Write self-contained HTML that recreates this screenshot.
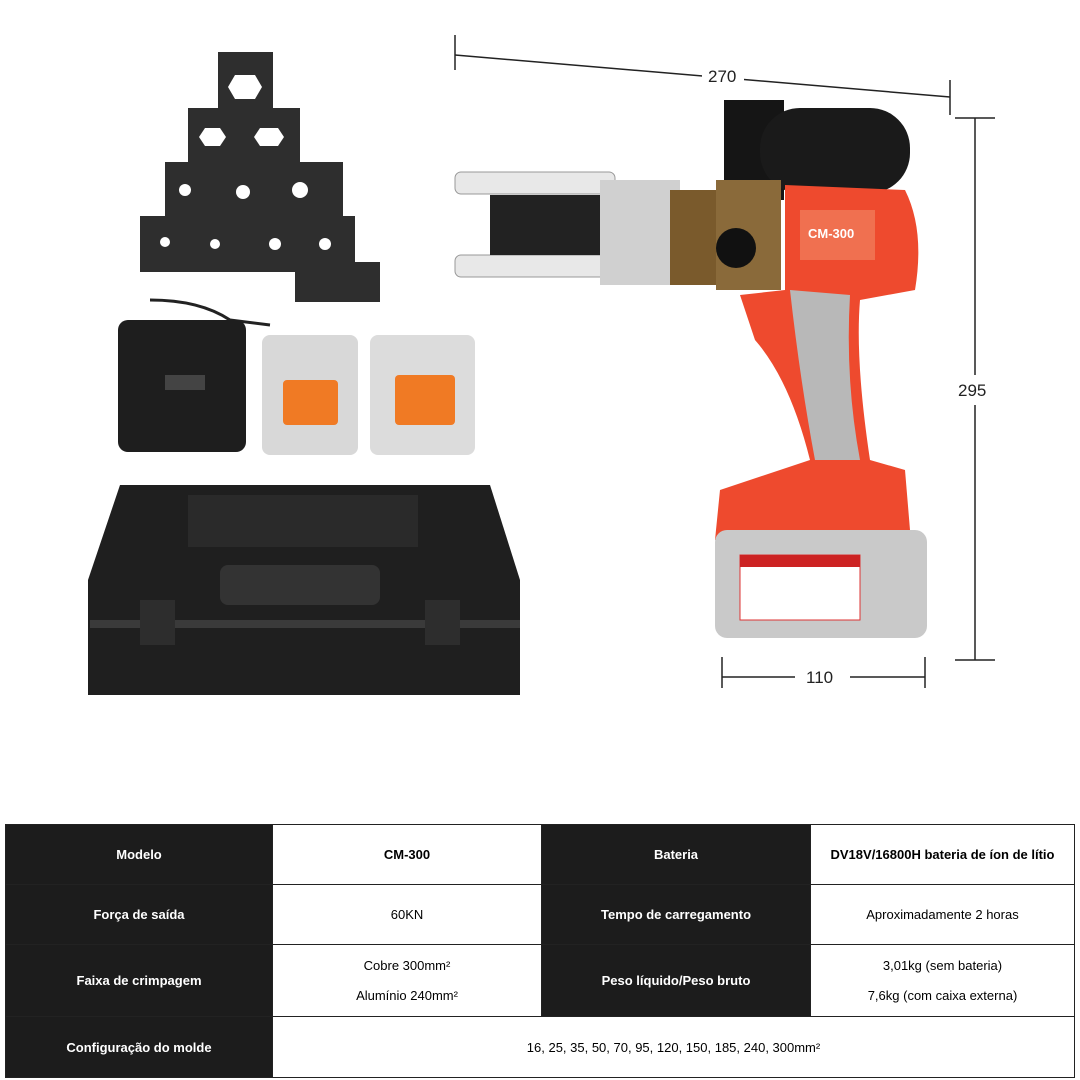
<!DOCTYPE html>
<html><head><meta charset="utf-8"><style>
html,body{margin:0;padding:0;background:#fff;width:1080px;height:1080px;overflow:hidden;font-family:"Liberation Sans","Noto Sans CJK SC",sans-serif}
svg{position:absolute;left:0;top:0}
table{position:absolute;left:5px;top:824px;width:1070px;border-collapse:collapse;font-size:13px;text-align:center}
td{border:1px solid #222;padding:0}
td.d{background:#1c1c1c;color:#fff;font-weight:bold}
td.b{font-weight:bold}
</style></head><body>
<svg width="1080" height="820" viewBox="0 0 1080 820">
<g fill="#2e2e2e">
<rect x="218" y="52" width="55" height="60"/>
<rect x="188" y="108" width="112" height="58"/>
<rect x="165" y="162" width="178" height="58"/>
<rect x="140" y="216" width="215" height="56"/>
<rect x="295" y="262" width="85" height="40"/>
</g>
<g fill="#fff"><polygon points="235,75 255,75 262,87 255,99 235,99 228,87"/>
<polygon points="205,128 220,128 226,137 220,146 205,146 199,137"/>
<polygon points="260,128 278,128 284,137 278,146 260,146 254,137"/>
<circle cx="185" cy="190" r="6"/><circle cx="243" cy="192" r="7"/><circle cx="300" cy="190" r="8"/>
<circle cx="165" cy="242" r="5"/><circle cx="215" cy="244" r="5"/><circle cx="275" cy="244" r="6"/><circle cx="325" cy="244" r="6"/></g>
<path d="M150 300 Q200 300 230 320 L270 325" stroke="#222" stroke-width="3" fill="none"/>
<rect x="118" y="320" width="128" height="132" rx="10" fill="#1e1e1e"/>
<rect x="165" y="375" width="40" height="15" fill="#444"/>
<rect x="262" y="335" width="96" height="120" rx="8" fill="#d8d8d8"/>
<rect x="283" y="380" width="55" height="45" rx="4" fill="#f07a24"/>
<rect x="370" y="335" width="105" height="120" rx="8" fill="#dcdcdc"/>
<rect x="395" y="375" width="60" height="50" rx="4" fill="#f07a24"/>
<path d="M120 485 L490 485 L520 580 L520 695 L88 695 L88 580 Z" fill="#1f1f1f"/>
<rect x="188" y="495" width="230" height="52" fill="#2a2a2a"/>
<rect x="220" y="565" width="160" height="40" rx="8" fill="#333"/>
<rect x="90" y="620" width="430" height="8" fill="#3a3a3a"/>
<rect x="140" y="600" width="35" height="45" fill="#2d2d2d"/>
<rect x="425" y="600" width="35" height="45" fill="#2d2d2d"/>
<rect x="724" y="100" width="60" height="100" fill="#151515"/>
<rect x="760" y="108" width="150" height="85" rx="40" fill="#1a1a1a"/>
<rect x="455" y="172" width="160" height="22" rx="6" fill="#e8e8e8" stroke="#999"/>
<rect x="455" y="255" width="160" height="22" rx="6" fill="#e8e8e8" stroke="#999"/>
<rect x="490" y="195" width="110" height="60" fill="#222"/>
<rect x="600" y="180" width="80" height="105" fill="#d0d0d0"/>
<rect x="670" y="190" width="50" height="95" fill="#7a5a2c"/>
<rect x="716" y="180" width="65" height="110" fill="#8a6a3a"/>
<circle cx="736" cy="248" r="20" fill="#111"/>
<path d="M785 185 L905 190 Q925 230 915 290 L860 300 Q855 360 870 460 L905 470 L910 530 L715 540 L720 490 L810 460 Q790 380 755 340 L740 295 L785 290 Z" fill="#ee4a2e"/>
<path d="M790 290 L850 295 Q845 380 860 460 L815 460 Q800 380 790 290Z" fill="#b8b8b8"/>
<rect x="800" y="210" width="75" height="50" fill="#f07050"/>
<text x="808" y="238" font-size="13" font-weight="bold" fill="#fff">CM-300</text>
<rect x="715" y="530" width="212" height="108" rx="12" fill="#c9c9c9"/>
<rect x="740" y="555" width="120" height="65" fill="#fff" stroke="#d33"/>
<rect x="740" y="555" width="120" height="12" fill="#c22"/>
<g stroke="#222" stroke-width="1.5" fill="none">
<line x1="455" y1="55" x2="950" y2="97"/><line x1="455" y1="35" x2="455" y2="70"/><line x1="950" y1="80" x2="950" y2="115"/>
<line x1="975" y1="118" x2="975" y2="660"/><line x1="955" y1="118" x2="995" y2="118"/><line x1="955" y1="660" x2="995" y2="660"/>
<line x1="722" y1="677" x2="795" y2="677"/><line x1="850" y1="677" x2="925" y2="677"/><line x1="722" y1="657" x2="722" y2="688"/><line x1="925" y1="657" x2="925" y2="688"/>
</g>
<rect x="702" y="66" width="42" height="20" fill="#fff"/>
<rect x="965" y="375" width="22" height="30" fill="#fff"/>
<text x="708" y="82" font-size="17" fill="#222">270</text>
<text x="958" y="396" font-size="17" fill="#222">295</text>
<text x="806" y="683" font-size="17" fill="#222">110</text>
</svg>
<table>
<tr style="height:60px"><td class="d" style="width:266px">Modelo</td><td class="b" style="width:268px">CM-300</td><td class="d" style="width:268px">Bateria</td><td class="b">DV18V/16800H bateria de íon de lítio</td></tr>
<tr style="height:60px"><td class="d">Força de saída</td><td>60KN</td><td class="d">Tempo de carregamento</td><td>Aproximadamente 2 horas</td></tr>
<tr style="height:72px"><td class="d">Faixa de crimpagem</td><td>Cobre 300mm²<br><br>Alumínio 240mm²</td><td class="d">Peso líquido/Peso bruto</td><td>3,01kg (sem bateria)<br><br>7,6kg (com caixa externa)</td></tr>
<tr style="height:61px"><td class="d">Configuração do molde</td><td colspan="3">16, 25, 35, 50, 70, 95, 120, 150, 185, 240, 300mm²</td></tr>
</table>
</body></html>
